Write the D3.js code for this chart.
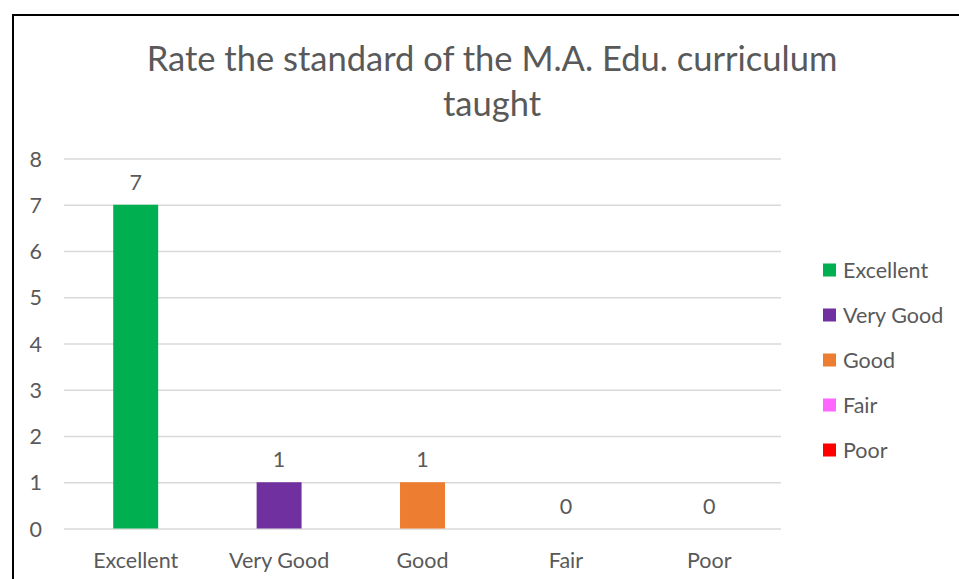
<!DOCTYPE html>
<html><head><meta charset="utf-8">
<script src="https://cdn.jsdelivr.net/npm/d3@7"></script>
<style>
html,body{margin:0;padding:0;background:#fff;overflow:hidden}
svg{display:block}
text{font-family:Lato,"Open Sans",sans-serif;fill:#595959}
</style></head>
<body>
<svg id="chart" width="959" height="579"></svg>
<script>
const titleLines = ["Rate the standard of the M.A. Edu. curriculum", "taught"];
const categories = ["Excellent", "Very Good", "Good", "Fair", "Poor"];
const values = [7, 1, 1, 0, 0];
const colors = ["#00B050", "#7030A0", "#ED7D31", "#FF66FF", "#FF0000"];
const yTicks = [0, 1, 2, 3, 4, 5, 6, 7, 8];

const svg = d3.select("#chart");
const W = 959, H = 579;
const FS = 21.5;

// frame
svg.append("path").attr("d", `M13,${H+5} L13,15 L${W+5},15`)
  .attr("fill","none").attr("stroke","#000").attr("stroke-width",2);

const plot = {left:64, right:781, top:158.5, bottom:528.5};
const xc = d3.scaleBand().domain(categories).range([plot.left, plot.right]);
const barW = xc.bandwidth()/3.19;
const y = d3.scaleLinear().domain([0,8]).range([plot.bottom, plot.top]);

// gridlines
const grid = d3.axisLeft(y).tickValues(yTicks).tickSize(-(plot.right-plot.left)).tickFormat("");
const g = svg.append("g").attr("transform",`translate(${plot.left},0)`).call(grid);
g.select(".domain").remove();
g.selectAll("line").attr("stroke","#D9D9D9").attr("stroke-width",1.3);

// y labels
const yAx = d3.axisLeft(y).tickValues(yTicks).tickSize(0).tickPadding(0);
const ya = svg.append("g").attr("transform","translate(42,0)").call(yAx);
ya.select(".domain").remove();
ya.selectAll("text").attr("font-size",FS).attr("font-family","Lato").attr("fill","#595959").attr("dy","0.35em");

// bars
svg.append("g").selectAll("rect").data(categories).join("rect")
  .attr("x", (d)=> xc(d)+xc.bandwidth()/2-barW/2)
  .attr("width", barW)
  .attr("y", (d,i)=> y(values[i]))
  .attr("height", (d,i)=> y(0)-y(values[i]))
  .attr("fill", (d,i)=> colors[i]);

// data labels
svg.append("g").selectAll("text").data(categories).join("text")
  .attr("x", d=> xc(d)+xc.bandwidth()/2)
  .attr("y", (d,i)=> y(values[i]) - 15)
  .attr("text-anchor","middle").attr("font-size",FS)
  .attr("fill","#404040")
  .text((d,i)=> values[i]);

// x labels
const xAx = d3.axisBottom(xc).tickSize(0).tickPadding(0);
const xa = svg.append("g").attr("transform",`translate(0,${plot.bottom})`).call(xAx);
xa.select(".domain").remove();
xa.selectAll("text").attr("font-size",FS).attr("font-family","Lato").attr("fill","#595959").attr("dy",null).attr("y",39);

// title
const tt = svg.append("g");
const t1 = tt.append("text").attr("x",492).attr("y",71).attr("text-anchor","middle").attr("font-size",32).text(titleLines[0]);
const w1 = t1.node().getComputedTextLength();
const fs = 32*691/w1;
t1.attr("font-size",fs);
tt.append("text").attr("x",492).attr("y",116).attr("text-anchor","middle").attr("font-size",fs).text(titleLines[1]);

// legend
const leg = svg.append("g").selectAll("g").data(categories).join("g")
  .attr("transform",(d,i)=>`translate(823,${270+45*i})`);
leg.append("rect").attr("x",0).attr("y",-6.5).attr("width",13).attr("height",13).attr("fill",(d,i)=>colors[i]);
leg.append("text").attr("x",20).attr("y",0).attr("dy","0.35em").attr("font-size",FS).text(d=>d);
</script>
</body></html>
